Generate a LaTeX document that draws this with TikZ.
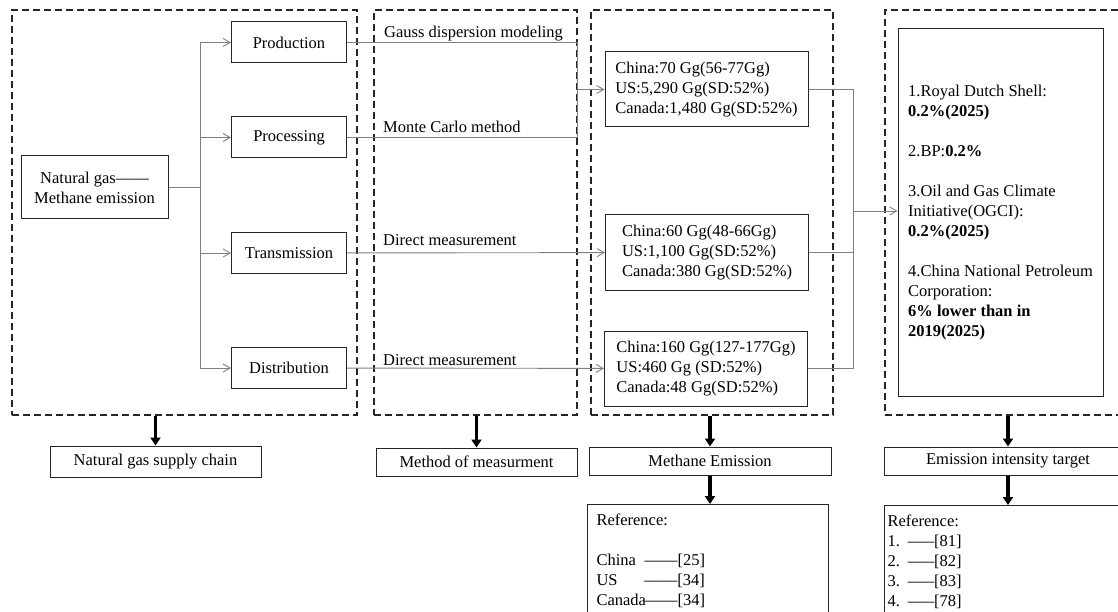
\documentclass[tikz,border=0pt]{standalone}
\usepackage{fontspec}
\setmainfont{Liberation Serif}
\usetikzlibrary{arrows.meta,positioning}

\tikzset{
  box/.style={draw=black!85, line width=1pt, minimum width=115pt, minimum height=41pt, inner sep=0pt},
  group/.style={draw=black!85, dash pattern=on 7pt off 4pt, line width=1.1pt, inner sep=0pt, minimum height=405pt},
  conn/.style={draw=black!50, line width=0.9pt},
  tip/.style={-{Straight Barb[length=7pt,width=8pt]}},
  fat/.style={line width=3.5pt, -{Triangle[length=8pt,width=10pt]}},
  lbl/.style={anchor=base west, inner sep=0pt}
}
\newcommand{\refdash}{\makebox[26pt]{\scalebox{0.8}[1]{——}}}

\begin{document}
\begin{tikzpicture}[x=1pt,y=-1pt,font=\fontsize{16.5}{20}\selectfont]
\clip (0,0) rectangle (1118,612);

% dashed groups
\node[group, minimum width=345pt] (grpA) at (184.5,212.5) {};
\node[group, minimum width=203pt] (grpB) at (475.5,212.5) {};
\node[group, minimum width=242pt] (grpC) at (712,212.5) {};
\node[group, minimum width=255pt] (grpD) at (1012.5,212.5) {};

% supply chain
\node[box, minimum width=147pt, minimum height=63pt, align=center] (ng) at (94.5,187.5) {Natural gas——\\Methane emission};
\foreach \name/\txt/\y in {prod/Production/42.5, proc/Processing/137.5, trans/Transmission/253, dist/Distribution/368}
  \node[box] (\name) at (289,\y) {\txt};
\coordinate (split) at (200,187.5);
\draw[conn] (ng) -- (split);
\foreach \name in {prod,proc,trans,dist}
  \draw[conn,tip] (split) |- (\name);

% methods
\node[lbl] (gauss) at (384,37.7) {Gauss dispersion modeling};
\node[lbl] (monte) at (383,132.7) {Monte Carlo method};
\node[lbl] (directA) at (383,245.7) {Direct measurement};
\node[lbl] (directB) at (383,365) {Direct measurement};

% emissions
\node[box, minimum width=203pt, minimum height=75pt, align=left] (emA) at (706.5,89.5)
  {China:70 Gg(56-77Gg)\\US:5,290 Gg(SD:52\%)\\Canada:1,480 Gg(SD:52\%)};
\node[box, minimum width=203pt, minimum height=75pt, align=left] (emB) at (707,252.5)
  {China:60 Gg(48-66Gg)\\US:1,100 Gg(SD:52\%)\\Canada:380 Gg(SD:52\%)};
\node[box, minimum width=203pt, minimum height=75pt, align=left] (emC) at (706,368.5)
  {China:160 Gg(127-177Gg)\\US:460 Gg (SD:52\%)\\Canada:48 Gg(SD:52\%)};
\coordinate (joinA) at (577,89.5);
\draw[conn] (prod) -| (joinA);
\draw[conn] (proc) -| (joinA);
\draw[conn,tip] (joinA) -- (emA);
\draw[conn,tip] (trans) -- (emB);
\draw[conn,tip] (dist) -- (emC);

% targets
\node[box, minimum width=205pt, minimum height=367pt, align=left] (target) at (1000.5,212.5)
  {1.Royal Dutch Shell:\\\textbf{0.2\%(2025)}\\[20pt]
   2.BP:\textbf{0.2\%}\\[20pt]
   3.Oil and Gas Climate\\Initiative(OGCI):\\\textbf{0.2\%(2025)}\\[20pt]
   4.China National Petroleum\\Corporation:\\\textbf{6\% lower than in}\\\textbf{2019(2025)}};
\coordinate (joinB) at (853,211);
\foreach \e in {emA,emB,emC}
  \draw[conn] (\e) -| (joinB);
\draw[conn,tip] (joinB) -- (joinB -| target.west);

% captions
\node[box, minimum width=211pt, minimum height=31pt] (chain) at (155.5,461.5) {Natural gas supply chain};
\node[box, minimum width=201pt, minimum height=28pt] (method) at (476.5,462) {Method of measurment};
\node[box, minimum width=242pt, minimum height=28pt] (emission) at (710,461) {Methane Emission};
\node[box, minimum width=248pt, minimum height=28pt] (intensity) at (1008,461) {Emission intensity target};
\draw[fat] (grpA.south -| chain) -- (chain);
\draw[fat] (grpB.south -| method) -- (method);
\draw[fat] (grpC.south -| emission) -- (emission);
\draw[fat] (grpD.south -| intensity) -- (intensity);

% references
\node[box, anchor=north west, text width=223pt, inner xsep=9pt, inner ysep=9pt, align=left] (refA) at (587,504)
  {Reference:\\[20pt]\makebox[48pt][l]{China}——[25]\\\makebox[48pt][l]{US}——[34]\\\makebox[48pt][l]{Canada}——[34]};
\node[box, anchor=north west, text width=250pt, inner xsep=3pt, inner ysep=9pt, align=left] (refB) at (884,505)
  {Reference:\\1. \refdash[81]\\2. \refdash[82]\\3. \refdash[83]\\4. \refdash[78]};
\draw[fat] (emission) -- (refA.north -| emission);
\draw[fat] (intensity) -- (refB.north -| intensity);
\end{tikzpicture}
\end{document}
